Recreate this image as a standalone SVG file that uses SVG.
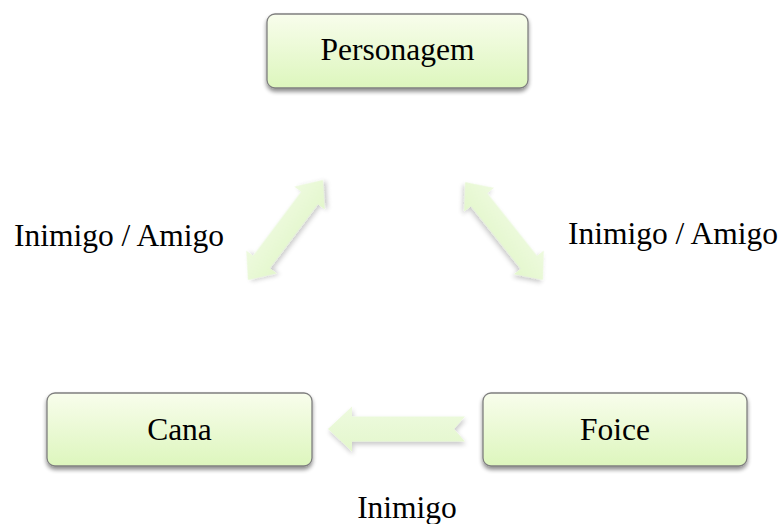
<svg xmlns="http://www.w3.org/2000/svg" width="784" height="524" viewBox="0 0 784 524">
  <defs>
    <linearGradient id="boxGrad" x1="0" y1="0" x2="0" y2="1">
      <stop offset="0" stop-color="#f8fdec"/>
      <stop offset="1" stop-color="#ddf6bd"/>
    </linearGradient>
    <linearGradient id="arrGrad" x1="0" y1="0" x2="0" y2="1">
      <stop offset="0" stop-color="#eefadf"/>
      <stop offset="1" stop-color="#e3f7cc"/>
    </linearGradient>
    <filter id="shadow" x="-20%" y="-20%" width="140%" height="150%">
      <feGaussianBlur in="SourceAlpha" stdDeviation="2"/>
      <feOffset dx="0" dy="3" result="b"/>
      <feComponentTransfer><feFuncA type="linear" slope="0.45"/></feComponentTransfer>
      <feMerge><feMergeNode/><feMergeNode in="SourceGraphic"/></feMerge>
    </filter>
    <filter id="ashadow" x="-30%" y="-30%" width="160%" height="160%">
      <feGaussianBlur in="SourceAlpha" stdDeviation="2.5"/>
      <feOffset dx="1" dy="3" result="b"/>
      <feComponentTransfer><feFuncA type="linear" slope="0.22"/></feComponentTransfer>
      <feMerge><feMergeNode/><feMergeNode in="SourceGraphic"/></feMerge>
    </filter>
  </defs>
  <style>
    .box { fill: url(#boxGrad); stroke: #7f7f7f; stroke-width: 1.3; filter: url(#shadow); }
    .lbl { font-family: "Liberation Serif", "Times New Roman", serif; font-size: 31.5px; fill: #000; }
    .arr { fill: url(#arrGrad); filter: url(#ashadow); }
  </style>

  <g id="connectors">
    <path class="arr" transform="translate(285.5,230) rotate(-53.13)" d="M-62.5,0 L-40,-19 L-40,-10.5 L40,-10.5 L40,-19 L62.5,0 L40,19 L40,10.5 L-40,10.5 L-40,19 Z"/>
    <path class="arr" transform="translate(504,231) rotate(51.5)" d="M-62.5,0 L-40,-19 L-40,-10.5 L40,-10.5 L40,-19 L62.5,0 L40,19 L40,10.5 L-40,10.5 L-40,19 Z"/>
    <path class="arr" d="M328,429 L352,406.5 L352,416.5 L465,416.5 L454,429 L465,441.5 L352,441.5 L352,451.5 Z"/>
  </g>

  <g id="label-left">
    <text class="lbl" x="14" y="246">Inimigo / Amigo</text>
  </g>
  <g id="label-right">
    <text class="lbl" x="568" y="244">Inimigo / Amigo</text>
  </g>
  <g id="label-bottom">
    <text class="lbl" x="407" y="518" text-anchor="middle">Inimigo</text>
  </g>

  <g id="node-personagem">
    <rect class="box" x="267" y="14" width="261" height="74" rx="8"/>
    <text class="lbl" x="397.5" y="60" text-anchor="middle">Personagem</text>
  </g>
  <g id="node-cana">
    <rect class="box" x="47" y="393" width="265" height="73" rx="8"/>
    <text class="lbl" x="179.5" y="440" text-anchor="middle">Cana</text>
  </g>
  <g id="node-foice">
    <rect class="box" x="483" y="393" width="264" height="73" rx="8"/>
    <text class="lbl" x="615" y="440" text-anchor="middle">Foice</text>
  </g>
</svg>
